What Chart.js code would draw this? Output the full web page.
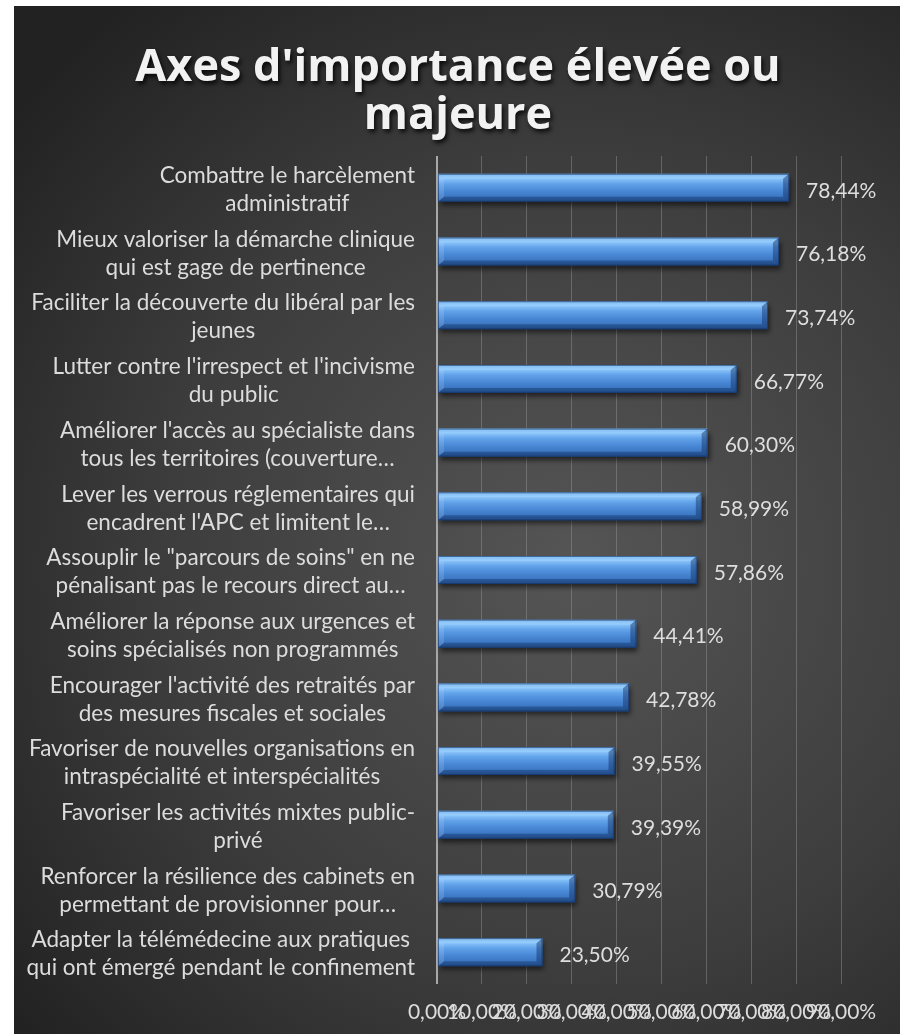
<!DOCTYPE html>
<html>
<head>
<meta charset="utf-8">
<script src="https://cdn.jsdelivr.net/npm/chart.js@4.4.1/dist/chart.umd.min.js"></script>
<style>
html,body{margin:0;padding:0;background:#ffffff;}
#wrap{position:absolute;left:14px;top:6px;width:886px;height:1028px;}
canvas{display:block;}
</style>
</head>
<body>
<div id="wrap"><canvas id="c" width="886" height="1028"></canvas></div>
<script>
const titleLines = ["Axes d'importance élevée ou", "majeure"];

const categories = [
  ["Combattre le harcèlement", "administratif"],
  ["Mieux valoriser la démarche clinique", "qui est gage de pertinence"],
  ["Faciliter la découverte du libéral par les", "jeunes"],
  ["Lutter contre l'irrespect et l'incivisme", "du public"],
  ["Améliorer l'accès au spécialiste dans", "tous les territoires (couverture…"],
  ["Lever les verrous réglementaires qui", "encadrent l'APC et limitent le…"],
  ["Assouplir le \"parcours de soins\" en ne", "pénalisant pas le recours direct au…"],
  ["Améliorer la réponse aux urgences et", "soins spécialisés non programmés"],
  ["Encourager l'activité des retraités par", "des mesures fiscales et sociales"],
  ["Favoriser de nouvelles organisations en", "intraspécialité et interspécialités"],
  ["Favoriser les activités mixtes public-", "privé"],
  ["Renforcer la résilience des cabinets en", "permettant de provisionner pour…"],
  ["Adapter la télémédecine aux pratiques", "qui ont émergé pendant le confinement"]
];

const values = [78.44, 76.18, 73.74, 66.77, 60.30, 58.99, 57.86, 44.41, 42.78, 39.55, 39.39, 30.79, 23.50];

const xTicks = [0, 10, 20, 30, 40, 50, 60, 70, 80, 90];

const fmt = v => v.toFixed(2).replace('.', ',') + '%';
const FONT = 'Lato, "Open Sans", sans-serif';
const TITLE_FONT = '"Open Sans", Lato, sans-serif';

const bgPlugin = {
  id: 'bg',
  beforeDraw(chart) {
    const {ctx, width, height} = chart;
    ctx.save();
    const g = ctx.createRadialGradient(560, 560, 20, 560, 560, 720);
    g.addColorStop(0, '#545454');
    g.addColorStop(0.55, '#3d3d3d');
    g.addColorStop(1, '#222222');
    ctx.fillStyle = g;
    ctx.fillRect(0, 0, width, height);
    ctx.restore();
  }
};

const shadowPlugin = {
  id: 'barShadow',
  beforeDatasetsDraw(chart) {
    const ctx = chart.ctx;
    ctx.save();
    ctx.shadowColor = 'rgba(0,0,0,0.55)';
    ctx.shadowBlur = 5;
    ctx.shadowOffsetX = 2;
    ctx.shadowOffsetY = 4;
  },
  afterDatasetsDraw(chart) {
    const ctx = chart.ctx;
    ctx.restore();
    const meta = chart.getDatasetMeta(0);
    ctx.save();
    meta.data.forEach((bar, i) => {
      const p = bar.getProps(['x', 'y', 'base', 'height'], true);
      const left = p.base, right = p.x;
      const top = p.y - p.height / 2, bottom = p.y + p.height / 2;
      const b = 6, bv = 5;
      ctx.fillStyle = 'rgba(170,215,255,0.35)';
      ctx.beginPath();
      ctx.moveTo(left, top); ctx.lineTo(right, top); ctx.lineTo(right - b, top + bv); ctx.lineTo(left + b, top + bv); ctx.closePath(); ctx.fill();
      ctx.fillStyle = 'rgba(10,35,80,0.35)';
      ctx.beginPath();
      ctx.moveTo(left, bottom); ctx.lineTo(right, bottom); ctx.lineTo(right - b, bottom - bv); ctx.lineTo(left + b, bottom - bv); ctx.closePath(); ctx.fill();
      ctx.fillStyle = 'rgba(15,45,95,0.45)';
      ctx.beginPath();
      ctx.moveTo(right, top); ctx.lineTo(right, bottom); ctx.lineTo(right - b, bottom - bv); ctx.lineTo(right - b, top + bv); ctx.closePath(); ctx.fill();
      ctx.fillStyle = 'rgba(200,230,255,0.18)';
      ctx.beginPath();
      ctx.moveTo(left, top); ctx.lineTo(left, bottom); ctx.lineTo(left + b, bottom - bv); ctx.lineTo(left + b, top + bv); ctx.closePath(); ctx.fill();
      ctx.strokeStyle = 'rgba(20,50,100,0.6)';
      ctx.lineWidth = 1;
      ctx.strokeRect(left + 0.5, top + 0.5, right - left - 1, bottom - top - 1);
    });
    ctx.fillStyle = '#dedede';
    ctx.font = '21px ' + FONT;
    ctx.textAlign = 'left';
    ctx.textBaseline = 'middle';
    meta.data.forEach((bar, i) => {
      ctx.fillText(fmt(values[i]), bar.x + 17, bar.y + 3);
    });
    ctx.restore();
  }
};

const labelPlugin = {
  id: 'catLabels',
  afterDraw(chart) {
    const ctx = chart.ctx;
    const ys = chart.scales.y;
    ctx.save();
    ctx.fillStyle = '#dcdcdc';
    ctx.font = '22.5px ' + FONT;
    ctx.textAlign = 'center';
    ctx.textBaseline = 'middle';
    const rightEdge = 401;
    const lh = 28;
    categories.forEach((lines, i) => {
      const yc = ys.getPixelForTick(i) + 2;
      let w = 0;
      lines.forEach(l => { w = Math.max(w, ctx.measureText(l).width); });
      const cx = rightEdge - w / 2;
      const y0 = yc - (lines.length - 1) * lh / 2;
      lines.forEach((l, k) => ctx.fillText(l, cx, y0 + k * lh));
    });
    ctx.font = 'bold 45px ' + TITLE_FONT;
    ctx.fillStyle = '#f2f2f2';
    ctx.shadowColor = 'rgba(0,0,0,0.8)';
    ctx.shadowBlur = 4;
    ctx.shadowOffsetX = 2;
    ctx.shadowOffsetY = 3;
    ctx.fillText(titleLines[0], chart.width / 2 + 1, 62);
    ctx.fillText(titleLines[1], chart.width / 2 + 1, 110);
    ctx.restore();
  }
};

function barGradient(context) {
  const chart = context.chart;
  const ys = chart.scales && chart.scales.y;
  if (!ys || context.dataIndex === undefined) return '#4a8ad6';
  const yc = ys.getPixelForValue(context.dataIndex);
  const h = (ys.height / categories.length) * 0.44;
  if (!isFinite(yc) || !isFinite(h) || h <= 0) return '#4a8ad6';
  const g = chart.ctx.createLinearGradient(0, yc - h / 2, 0, yc + h / 2);
  g.addColorStop(0, '#6aaae9');
  g.addColorStop(0.15, '#8ec8fb');
  g.addColorStop(0.35, '#62a3ea');
  g.addColorStop(0.6, '#4a89d6');
  g.addColorStop(0.85, '#3a74bf');
  g.addColorStop(1, '#2b5d9f');
  return g;
}

const ctx = document.getElementById('c').getContext('2d');
const chart = new Chart(ctx, {
  type: 'bar',
  data: {
    labels: categories,
    datasets: [{
      data: values,
      barPercentage: 0.44,
      categoryPercentage: 1,
      borderWidth: 0,
      backgroundColor: barGradient
    }]
  },
  options: {
    indexAxis: 'y',
    responsive: false,
    animation: false,
    devicePixelRatio: 1,
    layout: { padding: { top: 150, right: 59, bottom: 0, left: 0 } },
    plugins: {
      legend: { display: false },
      title: { display: false },
      tooltip: { enabled: false }
    },
    scales: {
      x: {
        min: 0,
        max: 90,
        afterBuildTicks(scale) { scale.ticks = xTicks.map(v => ({ value: v })); },
        afterFit(scale) { scale.height = 50; },
        grid: {
          drawTicks: false,
          color: c => c.index === 0 ? '#a8a8a8' : 'rgba(150,150,150,0.45)',
          lineWidth: c => c.index === 0 ? 2 : 1
        },
        border: { display: false },
        ticks: {
          autoSkip: false,
          maxRotation: 0,
          minRotation: 0,
          padding: 16,
          color: '#dcdcdc',
          font: { family: FONT, size: 21 },
          callback: v => fmt(v)
        }
      },
      y: {
        afterFit(scale) { scale.width = 423; },
        grid: { display: false },
        border: { display: false },
        ticks: { display: false }
      }
    }
  },
  plugins: [bgPlugin, shadowPlugin, labelPlugin]
});
chart.update();
</script>
</body>
</html>
